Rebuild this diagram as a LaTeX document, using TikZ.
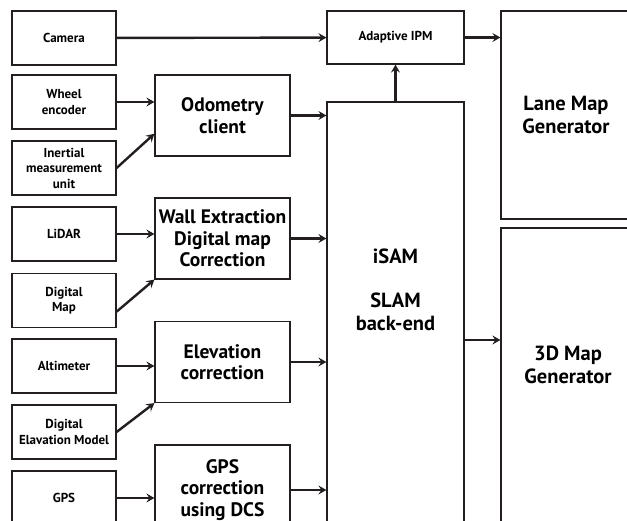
\documentclass[tikz,border=0pt]{standalone}
\usepackage{fontspec}
\setmainfont{PT Sans}
\usepackage{tikz}
\usetikzlibrary{arrows.meta, positioning, calc}
\definecolor{boxcolor}{RGB}{35,31,32}
\definecolor{flowcolor}{RGB}{35,31,32}

\begin{document}
\begin{tikzpicture}[
    x=1pt, y=-1pt,
    sensor/.style={draw=boxcolor, line width=1.2pt, minimum width=104pt, minimum height=54pt, align=center, inner sep=1pt, font=\bfseries\fontsize{13}{15.5}\selectfont},
    stage/.style={draw=boxcolor, line width=1.2pt, minimum width=135pt, minimum height=81pt, align=center, inner sep=1pt, font=\bfseries\fontsize{19.5}{21.5}\selectfont},
    bigbox/.style={draw=boxcolor, line width=1.2pt, inner sep=0pt},
    bigtext/.style={align=center, font=\bfseries\fontsize{20.5}{23}\selectfont},
    pipe/.style={-{Stealth[length=8pt, width=9pt, inset=3pt]}, line width=2.4pt, flowcolor}
]
    \clip (0,0) rectangle (627,521);

    % Sensors
    \node[sensor] (camera) at (64,38) {Camera};
    \node[sensor] (wheel) at (64,102) {Wheel\\encoder};
    \node[sensor] (imu) at (64,168) {Inertial\\measurement\\unit};
    \node[sensor] (lidar) at (64,234) {LiDAR};
    \node[sensor] (dmap) at (64,300.5) {Digital\\Map};
    \node[sensor] (alti) at (64,366) {Altimeter};
    \node[sensor] (dem) at (64,432) {Digital\\Elavation Model};
    \node[sensor] (gps) at (64,498) {GPS};

    % Front-end stages
    \node[stage] (odom) at (222.5,115.5) {Odometry\\client};
    \node[stage] (wall) at (222.5,238.5) {Wall Extraction\\Digital map\\Correction};
    \node[stage] (elev) at (222.5,362) {Elevation\\correction};
    \node[stage, minimum height=90pt] (gpsc) at (222.5,490) {GPS\\correction\\using DCS};

    % Back-end and maps
    \node[sensor, minimum width=137pt, minimum height=53pt] (ipm) at (395.5,37.5) {Adaptive IPM};
    \node[bigbox, minimum width=137pt, minimum height=476pt] (isam) at (395.5,340) {};
    \node[bigtext] (isamtext) at (395.5,289.5) {iSAM\\[21pt]SLAM\\back-end};
    \node[bigbox, minimum width=130pt, minimum height=208pt, bigtext] (lane) at (566,115) {Lane Map\\Generator};
    \node[bigbox, minimum width=140pt, minimum height=340pt] (map3d) at (571,398) {};
    \node[bigtext] (map3dtext) at (568,365) {3D Map\\Generator};

    % Sensor pipes
    \draw[pipe] (camera) -- (ipm);
    \draw[pipe] (wheel) -- (wheel -| odom.west);
    \draw[pipe] (imu.east) -- (odom.195);
    \draw[pipe] (lidar) -- (lidar -| wall.west);
    \draw[pipe] (dmap.-12) -- (wall.south west);
    \draw[pipe] (alti) -- (alti -| elev.west);
    \draw[pipe] (dem.east) -- (elev.south west);
    \draw[pipe] (gps) -- (gps -| gpsc.west);

    % Into the back-end
    \draw[pipe] (odom) -- (odom -| isam.west);
    \draw[pipe] (wall) -- (wall -| isam.west);
    \draw[pipe] (elev) -- (elev -| isam.west);
    \draw[pipe] (gpsc) -- (gpsc -| isam.west);

    % Outputs
    \draw[pipe] (isam) -- (ipm);
    \draw[pipe] (ipm) -- (ipm -| lane.west);
    \draw[pipe] (isam) -- (isam -| map3d.west);
\end{tikzpicture}
\end{document}
